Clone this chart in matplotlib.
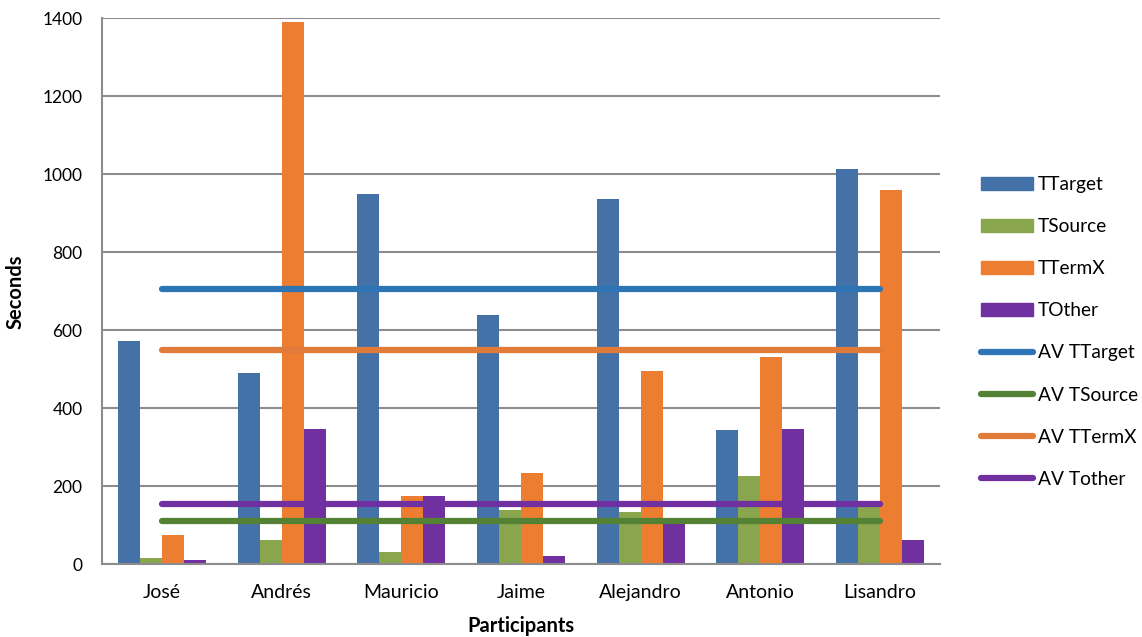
import matplotlib
matplotlib.use("Agg")
import matplotlib.pyplot as plt
import numpy as np
from matplotlib.patches import Patch
from matplotlib.lines import Line2D

plt.rcParams['font.family'] = ['Lato', 'DejaVu Sans']

participants = ["José", "Andrés", "Mauricio", "Jaime", "Alejandro", "Antonio", "Lisandro"]
ttarget = [573, 490, 950, 639, 937, 345, 1013]
tsource = [17, 63, 31, 138, 133, 226, 158]
ttermx = [75, 1390, 174, 234, 496, 532, 960]
tother = [11, 348, 175, 22, 112, 348, 62]
av_ttarget = 707
av_tsource = 110
av_ttermx = 550
av_tother = 154
yticks = [0, 200, 400, 600, 800, 1000, 1200, 1400]

bar_colors = ["#4472A8", "#89A54E", "#ED7D31", "#7030A0"]
line_colors = ["#2E75B6", "#548235", "#E07B39", "#7030A0"]

fig = plt.figure(figsize=(11.42, 6.37), dpi=100)
ax = fig.add_axes([102/1142, (637-564.3)/637, (940-102)/1142, (564.3-18.3)/637])

x = np.arange(len(participants))
w = 0.184
series = [ttarget, tsource, ttermx, tother]
for i, (vals, c) in enumerate(zip(series, bar_colors)):
    ax.bar(x + (i - 1.5) * w, vals, width=w, color=c, zorder=2)

avs = [av_ttarget, av_tsource, av_ttermx, av_tother]
for i in [0, 2, 1, 3]:
    ax.plot(x, [avs[i]] * len(x), color=line_colors[i], lw=4.5,
            solid_capstyle='round', zorder=3)

ax.set_xlim(-0.5, len(x) - 0.5)
ax.set_ylim(0, 1400)
ax.set_yticks(yticks)
ax.set_xticks(x)
ax.set_xticklabels(participants)
ax.yaxis.grid(True, color="#8C8C8C", lw=1.5, zorder=0)
ax.set_axisbelow(True)
for s in ["top", "right"]:
    ax.spines[s].set_visible(False)
for s in ["left", "bottom"]:
    ax.spines[s].set_color("#8C8C8C")
    ax.spines[s].set_linewidth(1.5)
ax.tick_params(axis='both', length=0, colors="black")
ax.tick_params(axis='y', labelsize=12.5, pad=14)
ax.tick_params(axis='x', labelsize=14, pad=14)
ax.set_xlabel("Participants", fontsize=14.5, fontweight='bold', labelpad=11)
ax.set_ylabel("Seconds", fontsize=14.5, fontweight='bold', labelpad=12)

handles = [Patch(color=c) for c in bar_colors] + \
          [Line2D([0], [0], color=c, lw=4.5, solid_capstyle='round') for c in line_colors]
labels = ["TTarget", "TSource", "TTermX", "TOther",
          "AV TTarget", "AV TSource", "AV TTermX", "AV Tother"]
fig.legend(handles, labels, loc='upper left', bbox_to_anchor=(981/1142, 1 - 176/637),
           frameon=False, fontsize=13.8, labelspacing=1.31, handlelength=2.7,
           handletextpad=0.27, borderpad=0, borderaxespad=0)

fig.savefig("out.png", dpi=100)
